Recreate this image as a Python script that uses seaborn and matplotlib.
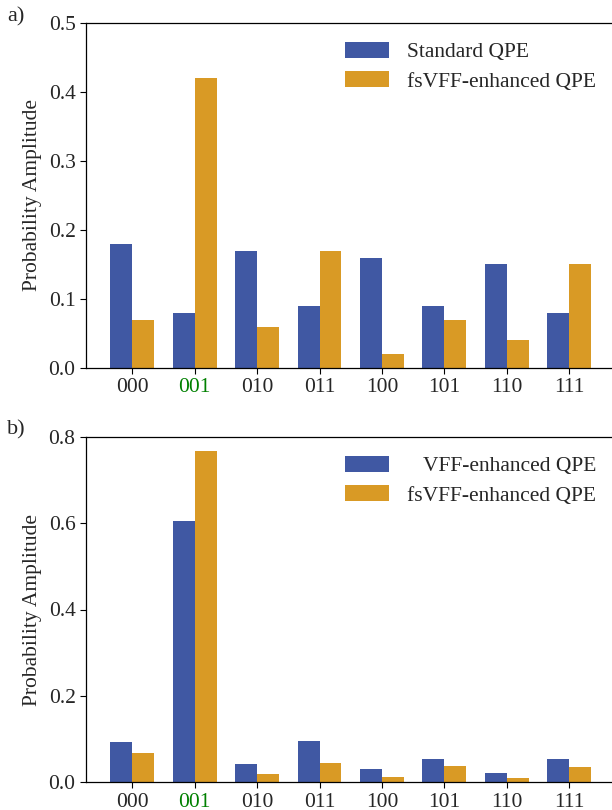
import numpy as np
import pandas as pd
import matplotlib
matplotlib.use("Agg")
import matplotlib.pyplot as plt
import seaborn as sns

states = ["000", "001", "010", "011", "100", "101", "110", "111"]

# Panel a
std_qpe = [0.18, 0.08, 0.17, 0.09, 0.16, 0.09, 0.15, 0.08]
fsvff_a = [0.07, 0.42, 0.06, 0.17, 0.02, 0.07, 0.04, 0.15]
# Panel b
vff_qpe = [0.093, 0.605, 0.042, 0.096, 0.031, 0.054, 0.022, 0.054]
fsvff_b = [0.068, 0.767, 0.019, 0.045, 0.012, 0.038, 0.010, 0.036]

labels_a = ["Standard QPE", "fsVFF-enhanced QPE"]
labels_b = ["VFF-enhanced QPE", "fsVFF-enhanced QPE"]

BLUE = "#4058A3"
ORANGE = "#D99A25"
FS = 15.5

sns.set_style("ticks")
plt.rcParams["font.family"] = ["Liberation Serif", "DejaVu Serif"]
plt.rcParams["font.size"] = FS

fig = plt.figure(figsize=(6.12, 8.10), dpi=100)
ax_a = fig.add_axes([86/612, 1-368/810, 529/612, (368-22.7)/810])
ax_b = fig.add_axes([86/612, 1-782.3/810, 529/612, (782.3-436.7)/810])


def make_df(s1, s2, l1, l2):
    return pd.DataFrame({
        "state": states * 2,
        "value": list(s1) + list(s2),
        "series": [l1] * len(states) + [l2] * len(states),
    })


def draw(ax, df, hue_order, ylim, yticks, right_align=False, anchor_top=0.95):
    sns.barplot(data=df, x="state", y="value", hue="series", hue_order=hue_order,
                palette=[BLUE, ORANGE], width=0.7, saturation=1, ax=ax,
                edgecolor="none", linewidth=0)
    ax.set_xlim(-0.742, 7.735)
    ax.set_ylim(*ylim)
    ax.set_yticks(yticks)
    ax.set_yticklabels([f"{t:.1f}" for t in yticks])
    ax.set_xlabel("")
    ax.set_ylabel("Probability Amplitude", fontsize=FS)
    ax.tick_params(axis="both", labelsize=FS, length=4.5, width=0.8, color="black", pad=3)
    for sp in ["left", "bottom", "top"]:
        ax.spines[sp].set_visible(True)
        ax.spines[sp].set_linewidth(0.9)
        ax.spines[sp].set_color("black")
    ax.spines["right"].set_visible(False)
    ax.get_xticklabels()[1].set_color("green")
    handles, labels = ax.get_legend_handles_labels()
    if ax.get_legend() is not None:
        ax.get_legend().remove()
    leg = ax.legend(handles, labels, loc="upper right", frameon=False,
                    bbox_to_anchor=(596/612, anchor_top), bbox_transform=fig.transFigure,
                    borderaxespad=0, borderpad=0, fontsize=FS,
                    handlelength=2.05, handleheight=0.74, handletextpad=0.84,
                    labelspacing=0.42)
    if right_align:
        fig.canvas.draw()
        renderer = fig.canvas.get_renderer()
        widths = [t.get_window_extent(renderer).width for t in leg.get_texts()]
        maxw = max(widths)
        for t, w in zip(leg.get_texts(), widths):
            t.set_position((maxw - w, 0))
    ax.yaxis.set_label_coords(-44/529, 0.5)


draw(ax_a, make_df(std_qpe, fsvff_a, *labels_a), labels_a, (0, 0.5),
     [0.0, 0.1, 0.2, 0.3, 0.4, 0.5], anchor_top=1-42/810)
draw(ax_b, make_df(vff_qpe, fsvff_b, *labels_b), labels_b, (0, 0.8),
     [0.0, 0.2, 0.4, 0.6, 0.8], right_align=True, anchor_top=1-456/810)

fig.text(7/612, 1-17/810, "a)", fontsize=16, va="center", ha="left")
fig.text(7/612, 1-430/810, "b)", fontsize=16, va="center", ha="left")

fig.savefig("out.png", dpi=100)
